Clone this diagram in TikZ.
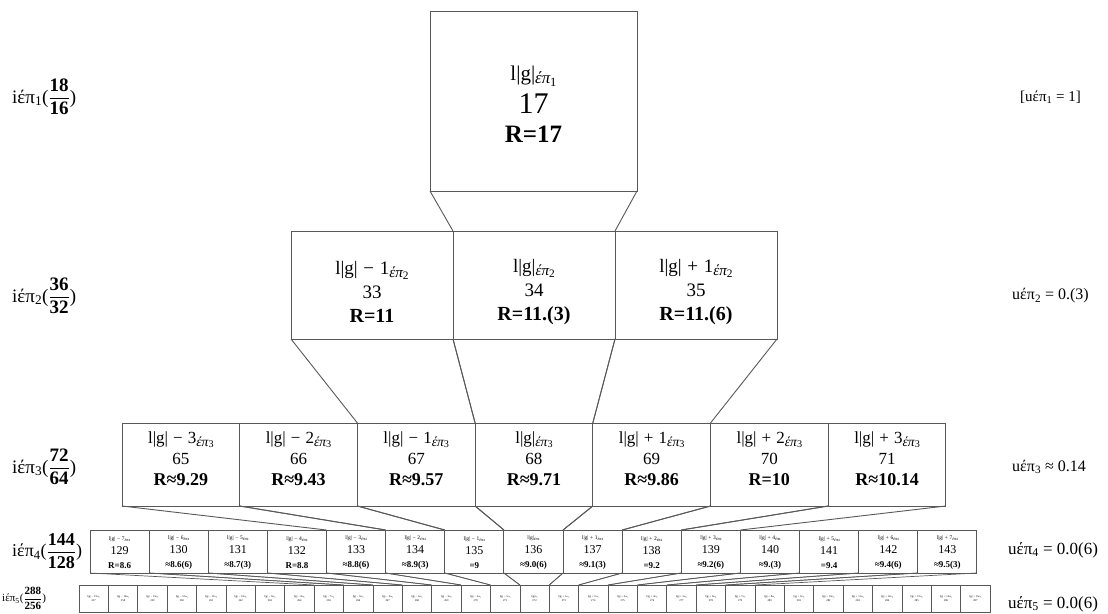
\documentclass[tikz,border=0pt]{standalone}
\usepackage{amsmath,graphicx,fontspec}
\setmainfont{Liberation Serif}
\usetikzlibrary{positioning}
\definecolor{edge}{RGB}{88,88,88}
\newcommand{\ep}[1]{\raisebox{-0.35ex}{\scalebox{0.8}{\itshape έπ}\raisebox{-0.25ex}{\scalebox{0.6}{#1}}}}
\newcommand{\mi}{\hspace{0.3em}−\hspace{0.3em}}
\newcommand{\pl}{\hspace{0.3em}+\hspace{0.3em}}

\begin{document}
\begin{tikzpicture}[x=1pt,y=-1pt,
 box/.style={draw=edge,line width=1pt,inner sep=0pt,outer sep=0pt},
 txt/.style={align=center,inner sep=0pt},
 link/.style={draw=edge,line width=0.9pt},
 side/.style={anchor=west,inner sep=0pt,font=\fontsize{19}{21}\selectfont}]
\useasboundingbox (0,0) rectangle (1108,613);
% level 1
\node[box,minimum width=207pt,minimum height=180pt] (a) at (533.5,101) {};
\node[txt,font=\fontsize{21}{29}\selectfont] (at) at (533.5,104)
 {l|g|\ep{1}\\[4pt]{\fontsize{30}{29}\selectfont 17}\\{\fontsize{25}{29}\selectfont\bfseries R=17}};
% level 2
\foreach \j/\lab/\num/\r in {0/l|g|\mi 1/33/R=11,1/l|g|/34/R=11.(3),2/l|g|\pl 1/35/R=11.(6)}{
 \node[box,minimum width=162pt,minimum height=108pt] (b\j) at ({372+162*\j},285) {};
 \node[txt,font=\fontsize{19}{24}\selectfont] (bt\j) at ([yshift=-7pt]b\j.center)
  {\lab\ep{2}\\\num\\{\fontsize{20}{24}\selectfont\bfseries\r}};
}
% level 3
\foreach \j/\lab/\r in {0/l|g|\mi 3/R≈9.29,1/l|g|\mi 2/R≈9.43,2/l|g|\mi 1/R≈9.57,3/l|g|/R≈9.71,4/l|g|\pl 1/R≈9.86,5/l|g|\pl 2/R=10,6/l|g|\pl 3/R≈10.14}{
 \node[box,minimum width=117.7pt,minimum height=83pt] (c\j) at ({122+117.7*(\j+0.5)},464.5) {};
 \pgfmathtruncatemacro\num{65+\j}
 \node[txt,font=\fontsize{17}{21}\selectfont] (ct\j) at ([yshift=6pt]c\j.center)
  {\lab\ep{3}\\\num\\{\fontsize{18}{21}\selectfont\bfseries\r}};
}
% level 4
\foreach \r [count=\i from 0] in {R=8.6,≈8.6(6),≈8.7(3),R=8.8,≈8.8(6),≈8.9(3),=9,≈9.0(6),≈9.1(3),=9.2,≈9.2(6),≈9.(3),=9.4,≈9.4(6),≈9.5(3)}{
 \pgfmathtruncatemacro\num{129+\i}
 \pgfmathtruncatemacro\off{abs(\i-7)}
 \node[box,minimum width=59.13pt,minimum height=43pt] (d\i) at ({90+59.13*(\i+0.5)},551.5) {};
 \node[txt,font=\fontsize{9}{14}\selectfont] (dt\i) at ([yshift=-1pt]d\i.center)
  {{\fontsize{5.5}{6}\selectfont l|g|\ifnum\i<7 \mi\off\fi\ifnum\i>7 \pl\off\fi\ep{4}}\\{\fontsize{12}{14}\selectfont\num}\\{\bfseries\r}};
}
% level 5
\foreach \i in {0,...,30}{
 \pgfmathtruncatemacro\num{257+\i}
 \pgfmathtruncatemacro\off{abs(\i-15)}
 \node[box,line width=0.7pt,minimum width=29.39pt,minimum height=27pt] (e\i) at ({79+29.39*(\i+0.5)},598.5) {};
 \node[txt,font=\fontsize{2.8}{4}\selectfont] (et\i) at (e\i.center)
  {l|g|\ifnum\i<15 \mi\off\fi\ifnum\i>15 \pl\off\fi\ep{5}\\\num};
}
% funnels
\draw[link] (a.south west) -- (b1.north west) (a.south east) -- (b1.north east);
\foreach \j [evaluate=\j as \k using int(\j+2)] in {0,1,2}
 \draw[link] (b\j.south west) -- (c\k.north west) (b\j.south east) -- (c\k.north east);
\foreach \j [evaluate=\j as \k using int(\j+4)] in {0,...,6}
 \draw[link] (c\j.south west) -- (d\k.north west) (c\j.south east) -- (d\k.north east);
\foreach \j [evaluate=\j as \k using int(\j+8)] in {0,...,14}
 \draw[link,line width=0.7pt] (d\j.south west) -- (e\k.north west) (d\j.south east) -- (e\k.north east);
% side labels
\node[side] (i1) at (12,97) {iέπ\textsubscript{1}($\dfrac{\textbf{18}}{\textbf{16}}$)};
\node[side] (i2) at (12,296) {iέπ\textsubscript{2}($\dfrac{\textbf{36}}{\textbf{32}}$)};
\node[side] (i3) at (12,467) {iέπ\textsubscript{3}($\dfrac{\textbf{72}}{\textbf{64}}$)};
\node[side,font=\fontsize{18}{20}\selectfont] (i4) at (12,551) {iέπ\textsubscript{4}($\dfrac{\textbf{144}}{\textbf{128}}$)};
\node[side,font=\fontsize{11}{13}\selectfont] (i5) at (2,598) {iέπ\textsubscript{5}($\dfrac{\textbf{288}}{\textbf{256}}$)};
\node[side,font=\fontsize{15}{17}\selectfont] (u1) at (1020,97) {[uέπ\textsubscript{1} = 1]};
\node[side,font=\fontsize{16}{18}\selectfont] (u2) at (1012,296) {uέπ\textsubscript{2} = 0.(3)};
\node[side,font=\fontsize{16}{18}\selectfont] (u3) at (1012,467) {uέπ\textsubscript{3} ≈ 0.14};
\node[side,font=\fontsize{17}{19}\selectfont] (u4) at (1008,550) {uέπ\textsubscript{4} = 0.0(6)};
\node[side,font=\fontsize{17}{19}\selectfont] (u5) at (1008,604) {uέπ\textsubscript{5} = 0.0(6)};
\end{tikzpicture}
\end{document}
